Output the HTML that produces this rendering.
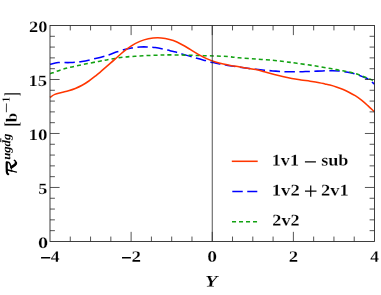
<!DOCTYPE html>
<html><head><meta charset="utf-8"><title>chart</title>
<style>html,body{margin:0;padding:0;background:#fff}svg{display:block}text{font-family:"Liberation Serif",serif}</style></head>
<body>
<svg width="381" height="295" viewBox="0 0 381 295">
<rect width="381" height="295" fill="#fff"/>
<g fill="none" stroke-width="1.55">
<path d="M50.00 64.30C51.37 64.02 54.87 62.88 58.20 62.60C61.53 62.32 66.05 62.78 70.00 62.60C73.95 62.42 77.65 62.18 81.90 61.50C86.15 60.82 91.07 59.58 95.50 58.50C99.93 57.42 105.05 56.07 108.50 55.00C111.95 53.93 113.52 53.00 116.20 52.10C118.88 51.20 122.07 50.27 124.60 49.60C127.13 48.93 128.85 48.53 131.40 48.10C133.95 47.67 137.35 47.20 139.90 47.00C142.45 46.80 144.15 46.82 146.70 46.90C149.25 46.98 152.38 47.13 155.20 47.50C158.02 47.87 161.13 48.57 163.60 49.10C166.07 49.63 167.95 50.20 170.00 50.70C172.05 51.20 173.80 51.52 175.90 52.10C178.00 52.68 180.07 53.47 182.60 54.20C185.13 54.93 188.55 55.77 191.10 56.50C193.65 57.23 195.50 57.92 197.90 58.60C200.30 59.28 202.95 59.93 205.50 60.60C208.05 61.27 210.80 62.03 213.20 62.60C215.60 63.17 217.43 63.53 219.90 64.00C222.37 64.47 224.83 64.88 228.00 65.40C231.17 65.92 235.67 66.62 238.90 67.10C242.13 67.58 244.57 67.93 247.40 68.30C250.23 68.67 253.07 68.98 255.90 69.30C258.73 69.62 261.58 69.93 264.40 70.20C267.22 70.47 269.98 70.68 272.80 70.90C275.62 71.12 278.77 71.35 281.30 71.50C283.83 71.65 285.40 71.75 288.00 71.80C290.60 71.85 294.00 71.83 296.90 71.80C299.80 71.77 302.57 71.68 305.40 71.60C308.23 71.52 311.07 71.42 313.90 71.30C316.73 71.18 319.58 70.98 322.40 70.90C325.22 70.82 328.02 70.78 330.80 70.80C333.58 70.82 336.25 70.75 339.10 71.00C341.95 71.25 345.22 71.80 347.90 72.30C350.58 72.80 352.78 73.28 355.20 74.00C357.62 74.72 360.42 75.85 362.40 76.60C364.38 77.35 365.83 77.85 367.10 78.50C368.37 79.15 368.77 79.55 370.00 80.50C371.23 81.45 373.75 83.58 374.50 84.20" stroke="#0000ff" stroke-dasharray="10.47 4.5" stroke-dashoffset="0.3"/>
<path d="M50.00 73.80C52.50 72.93 59.68 70.12 65.00 68.60C70.32 67.08 76.27 65.90 81.90 64.70C87.53 63.50 94.00 62.32 98.80 61.40C103.60 60.48 106.68 59.90 110.70 59.20C114.72 58.50 119.45 57.65 122.90 57.20C126.35 56.75 128.57 56.70 131.40 56.50C134.23 56.30 137.07 56.17 139.90 56.00C142.73 55.83 145.58 55.63 148.40 55.50C151.22 55.37 153.98 55.30 156.80 55.20C159.62 55.10 161.28 54.93 165.30 54.90C169.32 54.87 175.47 54.90 180.90 55.00C186.33 55.10 192.25 55.33 197.90 55.50C203.55 55.67 209.78 55.82 214.80 56.00C219.82 56.18 223.98 56.30 228.00 56.60C232.02 56.90 234.25 57.40 238.90 57.80C243.55 58.20 250.25 58.58 255.90 59.00C261.55 59.42 267.78 59.83 272.80 60.30C277.82 60.77 281.98 61.30 286.00 61.80C290.02 62.30 292.25 62.65 296.90 63.30C301.55 63.95 308.25 64.82 313.90 65.70C319.55 66.58 326.60 67.85 330.80 68.60C335.00 69.35 336.25 69.67 339.10 70.20C341.95 70.73 345.22 71.25 347.90 71.80C350.58 72.35 352.78 72.78 355.20 73.50C357.62 74.22 359.98 75.18 362.40 76.10C364.82 77.02 367.68 78.18 369.70 79.00C371.72 79.82 373.70 80.67 374.50 81.00" stroke="#12a212" stroke-dasharray="4.0 3.03" stroke-dashoffset="6.9"/>
<path d="M50.00 97.40C50.80 96.90 52.87 95.22 54.80 94.40C56.73 93.58 59.32 93.10 61.60 92.50C63.88 91.90 66.22 91.47 68.50 90.80C70.78 90.13 73.03 89.42 75.30 88.50C77.57 87.58 79.83 86.55 82.10 85.30C84.37 84.05 86.63 82.58 88.90 81.00C91.17 79.42 93.85 77.25 95.70 75.80C97.55 74.35 98.07 73.95 100.00 72.30C101.93 70.65 104.88 68.00 107.30 65.90C109.72 63.80 111.90 62.00 114.50 59.70C117.10 57.40 120.08 54.42 122.90 52.10C125.72 49.78 128.57 47.58 131.40 45.80C134.23 44.02 137.07 42.57 139.90 41.40C142.73 40.23 145.47 39.42 148.40 38.80C151.33 38.18 154.68 37.75 157.50 37.70C160.32 37.65 162.67 38.02 165.30 38.50C167.93 38.98 170.57 39.60 173.30 40.60C176.03 41.60 178.88 43.03 181.70 44.50C184.52 45.97 187.37 47.72 190.20 49.40C193.03 51.08 195.87 53.02 198.70 54.60C201.53 56.18 204.42 57.68 207.20 58.90C209.98 60.12 212.72 61.05 215.40 61.90C218.08 62.75 220.78 63.42 223.30 64.00C225.82 64.58 227.90 64.93 230.50 65.40C233.10 65.87 236.08 66.33 238.90 66.80C241.72 67.27 244.57 67.73 247.40 68.20C250.23 68.67 253.08 69.00 255.90 69.60C258.72 70.20 261.38 71.03 264.30 71.80C267.22 72.57 270.35 73.42 273.40 74.20C276.45 74.98 279.53 75.80 282.60 76.50C285.67 77.20 288.73 77.83 291.80 78.40C294.87 78.97 297.95 79.43 301.00 79.90C304.05 80.37 307.05 80.73 310.10 81.20C313.15 81.67 316.82 82.25 319.30 82.70C321.78 83.15 323.22 83.52 325.00 83.90C326.78 84.28 328.12 84.50 330.00 85.00C331.88 85.50 334.20 86.20 336.30 86.90C338.40 87.60 340.50 88.32 342.60 89.20C344.70 90.08 346.80 91.12 348.90 92.20C351.00 93.28 353.10 94.38 355.20 95.70C357.30 97.03 359.40 98.50 361.50 100.15C363.60 101.80 365.63 103.64 367.80 105.60C369.97 107.56 373.38 110.85 374.50 111.90" stroke="#ff3600"/>
</g>
<line x1="212.25" y1="25.50" x2="212.25" y2="241.45" stroke="#2a2a2a" stroke-width="0.8"/>
<path d="M70.28 241.45v-4.90M70.28 25.50v4.90M90.56 241.45v-4.90M90.56 25.50v4.90M110.84 241.45v-4.90M110.84 25.50v4.90M131.12 241.45v-9.60M131.12 25.50v9.60M151.41 241.45v-4.90M151.41 25.50v4.90M171.69 241.45v-4.90M171.69 25.50v4.90M191.97 241.45v-4.90M191.97 25.50v4.90M212.25 241.45v-9.60M212.25 25.50v9.60M232.53 241.45v-4.90M232.53 25.50v4.90M252.81 241.45v-4.90M252.81 25.50v4.90M273.09 241.45v-4.90M273.09 25.50v4.90M293.38 241.45v-9.60M293.38 25.50v9.60M313.66 241.45v-4.90M313.66 25.50v4.90M333.94 241.45v-4.90M333.94 25.50v4.90M354.22 241.45v-4.90M354.22 25.50v4.90M50.00 230.65h4.90M374.50 230.65h-4.90M50.00 219.85h4.90M374.50 219.85h-4.90M50.00 209.06h4.90M374.50 209.06h-4.90M50.00 198.26h4.90M374.50 198.26h-4.90M50.00 187.46h9.60M374.50 187.46h-9.60M50.00 176.66h4.90M374.50 176.66h-4.90M50.00 165.87h4.90M374.50 165.87h-4.90M50.00 155.07h4.90M374.50 155.07h-4.90M50.00 144.27h4.90M374.50 144.27h-4.90M50.00 133.47h9.60M374.50 133.47h-9.60M50.00 122.68h4.90M374.50 122.68h-4.90M50.00 111.88h4.90M374.50 111.88h-4.90M50.00 101.08h4.90M374.50 101.08h-4.90M50.00 90.28h4.90M374.50 90.28h-4.90M50.00 79.49h9.60M374.50 79.49h-9.60M50.00 68.69h4.90M374.50 68.69h-4.90M50.00 57.89h4.90M374.50 57.89h-4.90M50.00 47.09h4.90M374.50 47.09h-4.90M50.00 36.30h4.90M374.50 36.30h-4.90" stroke="#2a2a2a" stroke-width="0.8" fill="none"/>
<rect x="50.00" y="25.50" width="324.50" height="215.95" fill="none" stroke="#2a2a2a" stroke-width="0.9"/>
<g fill="none" stroke-width="1.55">
<path d="M231.8 161.3H257.7" stroke="#ff3600"/>
<path d="M232.3 191.5H257.3" stroke="#0000ff" stroke-dasharray="10.45 4.5"/>
<path d="M232 221.7H257.4" stroke="#12a212" stroke-dasharray="4.05 2.95"/>
</g>
<g font-family="Liberation Serif" font-weight="bold" fill="#000" stroke="#fff" stroke-width="0.18" text-rendering="geometricPrecision" style="filter:grayscale(1)">
<text transform="translate(29.05 31.95) rotate(0.05) scale(1.167 1.000)" font-size="15.80">20</text>
<text transform="translate(28.49 85.94) rotate(0.05) scale(1.178 1.000)" font-size="15.80">15</text>
<text transform="translate(28.45 139.92) rotate(0.05) scale(1.207 1.000)" font-size="15.80">10</text>
<text transform="translate(38.36 193.91) rotate(0.05) scale(1.155 1.000)" font-size="15.80">5</text>
<text transform="translate(38.04 247.90) rotate(0.05) scale(1.281 1.000)" font-size="15.80">0</text>
<text stroke="none" transform="translate(40.05 264.13) rotate(0.05) scale(1.251 1.243)" font-size="15.80">−</text>
<text transform="translate(50.78 261.80) rotate(0.05) scale(1.107 1.000)" font-size="15.80">4</text>
<text stroke="none" transform="translate(121.08 264.13) rotate(0.05) scale(1.210 1.243)" font-size="15.80">−</text>
<text transform="translate(131.53 261.80) rotate(0.05) scale(1.203 1.000)" font-size="15.80">2</text>
<text transform="translate(207.27 261.80) rotate(0.05) scale(1.236 1.000)" font-size="15.80">0</text>
<text transform="translate(288.74 261.80) rotate(0.05) scale(1.188 1.000)" font-size="15.80">2</text>
<text transform="translate(370.18 261.80) rotate(0.05) scale(1.094 1.000)" font-size="15.80">4</text>
<text transform="translate(271.83 165.50) rotate(0.05) scale(1.103 1.000)" font-size="16.40">1v1</text>
<text stroke="none" transform="translate(303.82 169.65) rotate(0.05) scale(1.495 1.519)" font-size="15.80" font-weight="normal">−</text>
<text transform="translate(321.13 165.50) rotate(0.05) scale(1.110 1.000)" font-size="16.40">sub</text>
<text transform="translate(271.78 195.50) rotate(0.05) scale(1.140 1.000)" font-size="16.40">1v2</text>
<text stroke="none" transform="translate(303.77 199.08) rotate(0.05) scale(1.563 1.509)" font-size="15.80" font-weight="normal">+</text>
<text transform="translate(320.95 195.50) rotate(0.05) scale(1.127 1.000)" font-size="16.40">2v1</text>
<text transform="translate(272.36 225.50) rotate(0.05) scale(1.107 1.000)" font-size="16.40">2v2</text>
<text transform="translate(204.88 286.60) rotate(0.05) scale(1.263 1.000)" font-size="16.15" font-style="italic">Y</text>
<g transform="translate(16.8 175.4) rotate(-89.95)">
<g id="calR" transform="rotate(89.95) translate(-16.8 -175.4)" fill="none" stroke="#000" stroke-linecap="round" stroke-linejoin="round"><title>R</title><path d="M6.75 162.4C6.65 165 6.65 169 6.85 172C6.95 173.2 7.4 173.9 8.2 174.2" stroke-width="2.2"/><path d="M6.9 162.5C7.8 162.2 9 162.4 9.7 163.4C10.4 164.6 10.9 166.6 11.5 168.9" stroke-width="1.45"/><path d="M11.3 167C12.6 166.7 14 165.4 15.1 164.6C15.7 164.1 15.9 163.6 15.9 163" stroke-width="2.6"/><path d="M15.9 163.4C16.1 162.4 15.8 161.6 15.3 161C15 160.7 14.7 160.5 14.4 160.3" stroke-width="1.5"/><path d="M6.9 169.7L12 171" stroke-width="1.5"/><path d="M11 170.75L16.5 172.2" stroke-width="1.2"/></g>
<text stroke="none" transform="translate(15.52 -6.50) rotate(0) scale(1.100 1.000)" font-size="11.60" font-style="italic">ugdg</text>
<path d="M33.3 -16.05H37.1" stroke="#000" stroke-width="0.95"/>
<text transform="translate(48.99 1.14) rotate(0) scale(0.845 1.238)" font-size="16.00">[</text>
<text transform="translate(53.19 0.00) rotate(0) scale(1.076 1.000)" font-size="15.70">b</text>
<text transform="translate(62.03 -3.21) rotate(0) scale(1.696 1.930)" font-size="11.40" font-weight="normal">−</text>
<text transform="translate(73.40 -7.10) rotate(0) scale(0.879 1.000)" font-size="11.20">1</text>
<text transform="translate(79.16 1.14) rotate(0) scale(0.732 1.238)" font-size="16.00">]</text>
</g>
</g>
</svg>
</body></html>
